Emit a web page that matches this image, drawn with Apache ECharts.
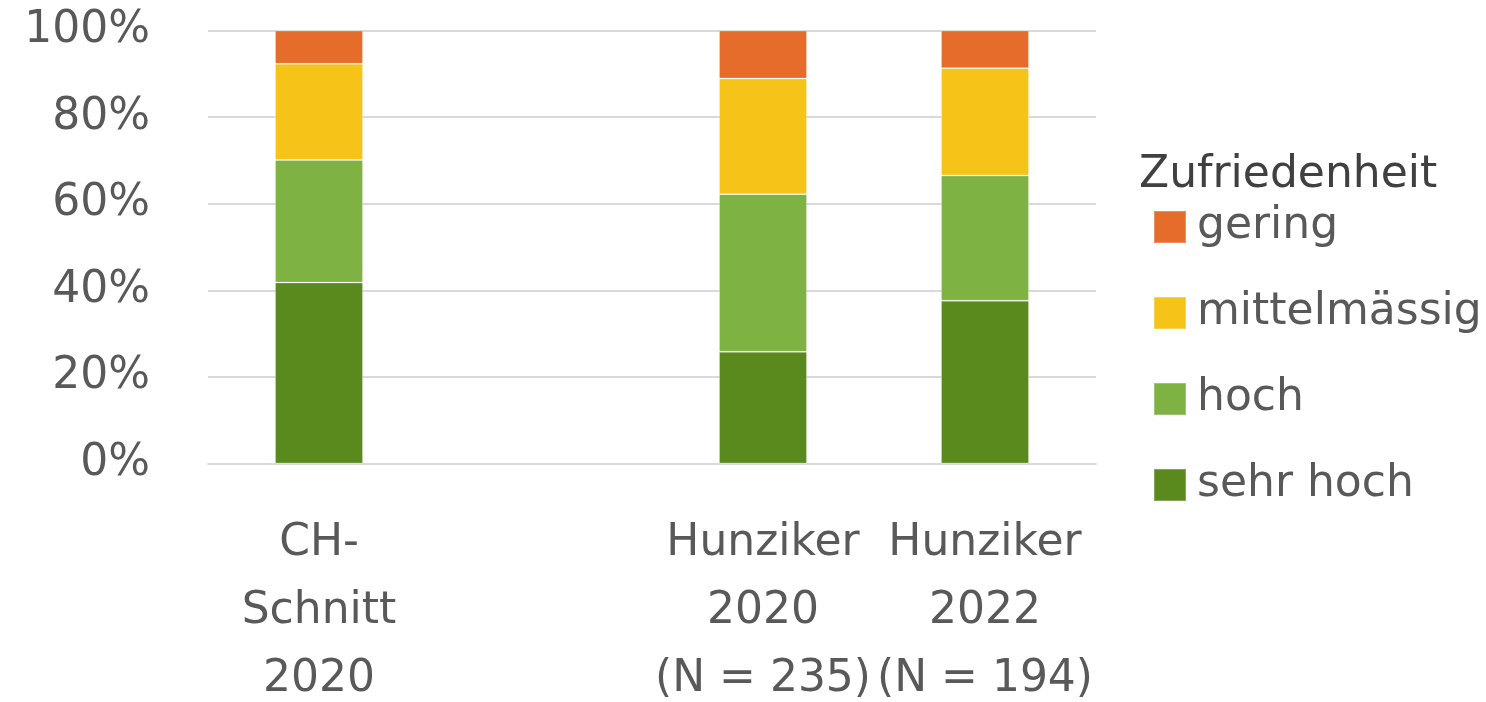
<!DOCTYPE html>
<html lang="de">
<head>
    <meta charset="UTF-8"/>
    <script src="https://cdn.jsdelivr.net/npm/echarts@6/dist/echarts.min.js"></script>
    <title>Zufriedenheit</title>
    <style>
        html, body { margin: 0; padding: 0; background: #fff; }
    </style>
</head>
<body>
<div id="main" style="width:1486px; height:702px;"></div>
<script type="text/javascript">
    // Kategorien (die leere Kategorie lässt die Lücke zwischen CH-Schnitt und Hunziker)
    var categories = ['CH-\nSchnitt\n2020', '', 'Hunziker\n2020\n(N = 235)', 'Hunziker\n2022\n(N = 194)'];

    // Anteile in %
    var sehrHoch = [41.8, null, 25.8, 37.6];
    var hoch = [28.3, null, 36.4, 28.9];
    var mittelmaessig = [22.2, null, 26.7, 24.8];
    var gering = [7.7, null, 11.1, 8.7];

    var yTicks = [0, 20, 40, 60, 80, 100];

    var textColor = '#595959';
    var fontFamily = 'DejaVu Sans';
    var fontSize = 44;

    var myChart = echarts.init(document.getElementById('main'));

    function bar(name, data, color) {
        return {
            name: name,
            type: 'bar',
            stack: 'total',
            barWidth: 88,
            data: data,
            itemStyle: {
                color: color,
                borderColor: 'rgba(255,255,255,0.25)',
                borderWidth: 1
            }
        };
    }

    var option = {
        animation: false,
        title: {
            text: 'Zufriedenheit',
            left: 1134,
            top: 149,
            textStyle: {
                color: '#404040',
                fontFamily: fontFamily,
                fontSize: fontSize,
                fontWeight: 'normal'
            }
        },
        legend: {
            orient: 'vertical',
            left: 1148,
            top: 200,
            itemWidth: 32,
            itemHeight: 32,
            itemGap: 42,
            icon: 'rect',
            data: ['gering', 'mittelmässig', 'hoch', 'sehr hoch'],
            textStyle: {
                color: textColor,
                fontFamily: fontFamily,
                fontSize: fontSize,
                padding: [0, 0, 0, 6]
            }
        },
        grid: {
            left: 208,
            right: 390,
            top: 30.5,
            bottom: 238.5,
            outerBoundsMode: 'none'
        },
        xAxis: {
            type: 'category',
            data: categories,
            axisTick: { show: false },
            axisLine: { lineStyle: { color: '#d9d9d9', width: 2 } },
            axisLabel: {
                interval: 0,
                margin: 46,
                color: textColor,
                fontFamily: fontFamily,
                fontSize: fontSize,
                lineHeight: 68,
                align: 'center'
            }
        },
        yAxis: {
            type: 'value',
            min: yTicks[0],
            max: yTicks[yTicks.length - 1],
            interval: yTicks[1] - yTicks[0],
            axisLine: { show: false },
            axisTick: { show: false },
            splitLine: { lineStyle: { color: '#d9d9d9', width: 2 } },
            axisLabel: {
                margin: 58,
                color: textColor,
                fontFamily: fontFamily,
                fontSize: fontSize,
                formatter: '{value}%'
            }
        },
        series: [
            bar('sehr hoch', sehrHoch, '#5A8A1E'),
            bar('hoch', hoch, '#7EB242'),
            bar('mittelmässig', mittelmaessig, '#F6C319'),
            bar('gering', gering, '#E56C2A')
        ]
    };

    myChart.setOption(option);
</script>
</body>
</html>
